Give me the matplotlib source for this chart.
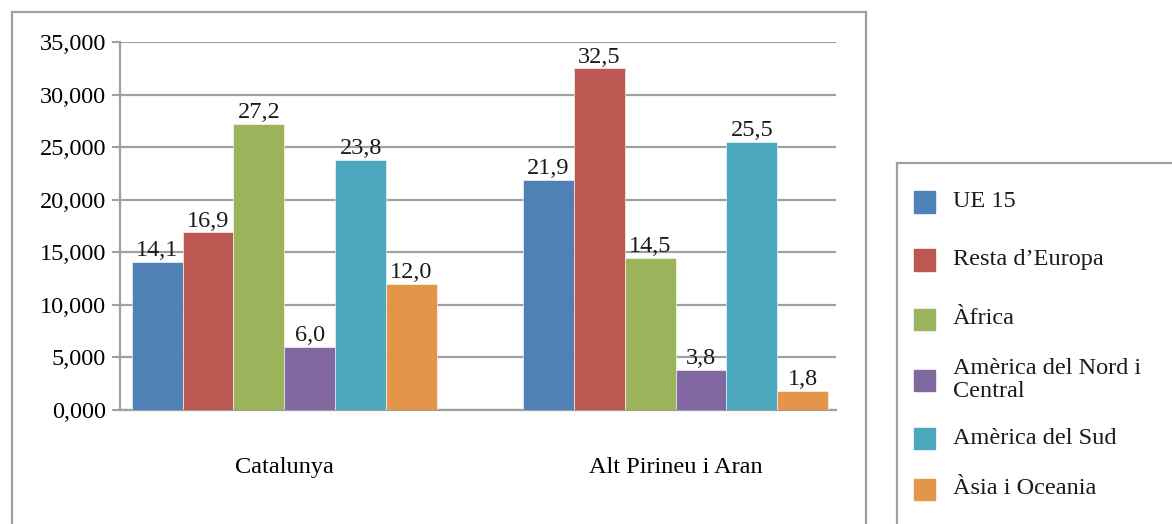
import matplotlib
matplotlib.use("Agg")
import matplotlib.pyplot as plt
from matplotlib.patches import Rectangle

# data
regions = ['Catalunya', 'Alt Pirineu i Aran']
series = ['UE 15', 'Resta d\u2019Europa', '\u00c0frica',
          'Am\u00e8rica del Nord i\nCentral', 'Am\u00e8rica del Sud', '\u00c0sia i Oceania']
ue15 = [14.1, 21.9]
resta_europa = [16.9, 32.5]
africa = [27.2, 14.5]
america_nord = [6.0, 3.8]
america_sud = [23.8, 25.5]
asia_oceania = [12.0, 1.8]
colors = ['#4F81B7', '#BC5751', '#9BB45B', '#8268A1', '#4BA8BF', '#E3954A']
yticks = [0, 5, 10, 15, 20, 25, 30, 35]

values = [ue15, resta_europa, africa, america_nord, america_sud, asia_oceania]

plt.rcParams['font.family'] = ['Liberation Serif', 'DejaVu Serif']
grid_col = '#a0a0a0'
fs = 17.5

fig = plt.figure(figsize=(11.72, 5.24), dpi=100)
ax = fig.add_axes([120 / 1172, 1 - 410 / 524, 716 / 1172, 368 / 524])

width = 0.13
x = [0, 1]
for i, (vals, col) in enumerate(zip(values, colors)):
    offs = (i - 2.5) * width
    pos = [xi + offs for xi in x]
    bars = ax.bar(pos, vals, width=width, color=col, edgecolor='white', linewidth=0.4, zorder=3)
    for b, v in zip(bars, vals):
        ax.annotate(f'{v:.1f}'.replace('.', ','), (b.get_x() + b.get_width() / 2, v),
                    xytext=(0, 0.5), textcoords='offset points', ha='center', va='bottom',
                    fontsize=fs, color='#1a1a1a')

ax.set_ylim(0, 35)
ax.set_xlim(-0.42, 1.41)
ax.set_yticks(yticks)
ax.set_yticklabels([f'{v:.3f}'.replace('.', ',') for v in yticks], fontsize=fs)
ax.set_xticks(x)
ax.set_xticklabels(regions, fontsize=fs)
ax.tick_params(axis='x', length=0, pad=34)
ax.tick_params(axis='y', length=6, width=1.5, color=grid_col, pad=4)
ax.yaxis.grid(True, color=grid_col, linewidth=1.6, zorder=0)
ax.set_axisbelow(True)
for s in ['top', 'right']:
    ax.spines[s].set_visible(False)
for s in ['left', 'bottom']:
    ax.spines[s].set_color(grid_col)
    ax.spines[s].set_linewidth(1.6)

# outer chart border and legend box
fig.patches.append(Rectangle((12 / 1172, -0.1), 854 / 1172, 1.1 - 12 / 524, transform=fig.transFigure,
                             fill=False, edgecolor=grid_col, linewidth=1.6))
fig.patches.append(Rectangle((897 / 1172, -0.1), 0.3, 1.1 - 163 / 524, transform=fig.transFigure,
                             fill=False, edgecolor=grid_col, linewidth=1.6))

legend_y = [202, 260, 319, 380, 438, 489]
for name, col, yy in zip(series, colors, legend_y):
    fig.patches.append(Rectangle((914 / 1172, 1 - (yy + 10.5) / 524), 21 / 1172, 21 / 524,
                                 transform=fig.transFigure, color=col))
    fig.text(953 / 1172, 1 - yy / 524, name, fontsize=fs, va='center', ha='left',
             linespacing=1.15, color='#1a1a1a')

fig.savefig('out.png', dpi=100)
